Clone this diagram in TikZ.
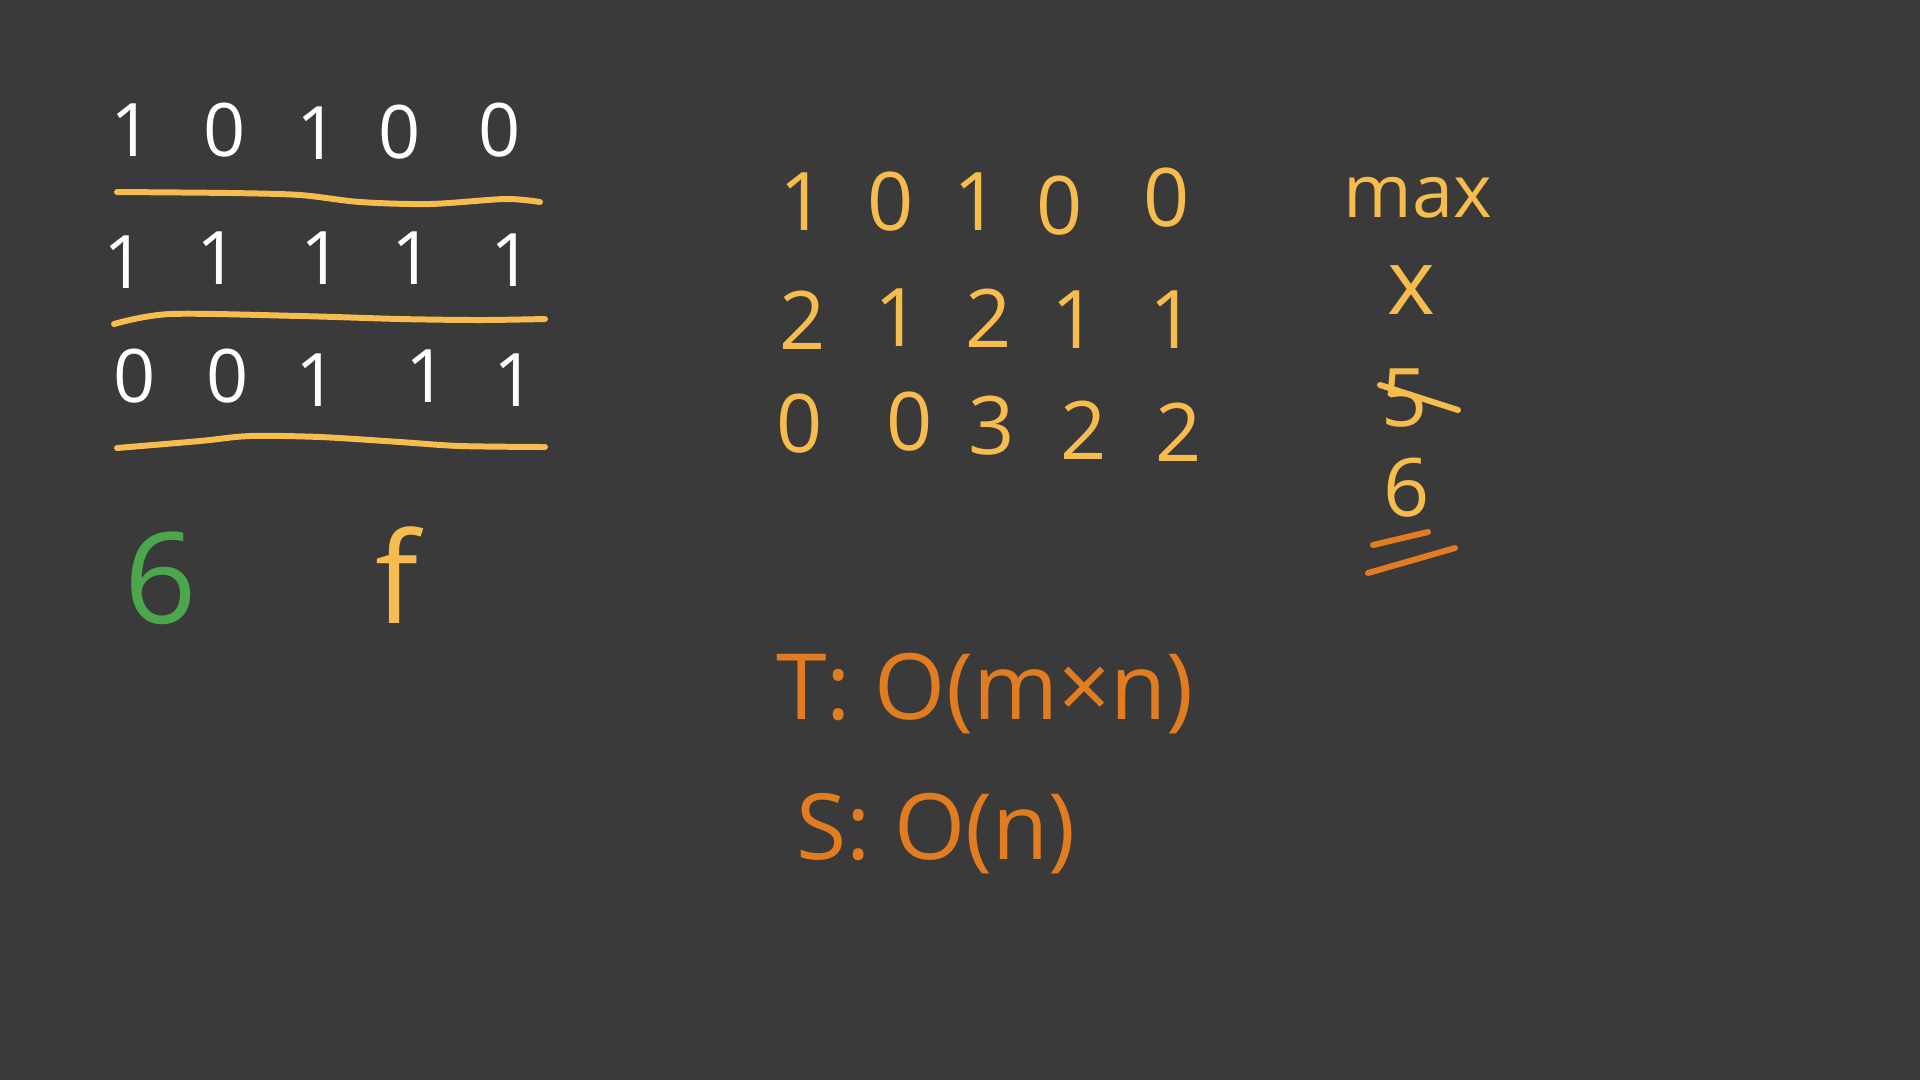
\documentclass[tikz,border=0pt]{standalone}
\usepackage{fontspec}
\setmainfont{Open Sans}
\usepackage{xcolor}
\usepackage{tikz}
\definecolor{boardgray}{RGB}{58, 58, 58}
\definecolor{chalkyellow}{RGB}{247, 188, 78}
\definecolor{chalkorange}{RGB}{226, 124, 32}
\definecolor{chalkgreen}{RGB}{76, 166, 76}

\begin{document}
\begin{tikzpicture}[x=0.1mm, y=-0.1mm,
    bit/.style={white, inner sep=0pt, font=\fontsize{21}{24}\selectfont},
    cell/.style={chalkyellow, inner sep=0pt, font=\fontsize{23}{26}\selectfont},
    rule/.style={chalkyellow, line width=1.7pt, line cap=round}]
  % board
  \fill[boardgray] (0,0) rectangle (1920,1080);
  \useasboundingbox (0,0) rectangle (1920,1080);

  % left: input grid, one row per line
  \node[bit] (a11) at (132,130) {1};
  \node[bit] (a12) at (225,130) {0};
  \node[bit] (a13) at (318,133) {1};
  \node[bit] (a14) at (400,132) {0};
  \node[bit] (a15) at (500,130) {0};
  \draw[rule] plot[smooth] coordinates
    {(117,192) (230,193) (300,195) (360,202) (430,204) (505,199) (540,202)};
  \node[bit] (a21) at (125,262) {1};
  \node[bit] (a22) at (218,258) {1};
  \node[bit] (a23) at (322,258) {1};
  \node[bit] (a24) at (413,258) {1};
  \node[bit] (a25) at (512,260) {1};
  \draw[rule] plot[smooth] coordinates
    {(114,324) (170,314) (300,316) (400,319) (480,320) (545,319)};
  \node[bit] (a31) at (135,376) {0};
  \node[bit] (a32) at (228,376) {0};
  \node[bit] (a33) at (317,380) {1};
  \node[bit] (a34) at (427,376) {1};
  \node[bit] (a35) at (515,380) {1};
  \draw[rule] plot[smooth] coordinates
    {(117,448) (200,441) (250,436) (320,437) (400,442) (460,446) (545,447)};

  \node[chalkgreen, inner sep=0pt, font=\fontsize{36}{40}\selectfont]
    (six) at (161,578) {6};
  \node[chalkyellow, inner sep=0pt, font=\fontsize{36}{40}\selectfont]
    (fx) at (397,575) {f};

  % middle: heights per row
  \node[cell] (h11) at (803,202) {1};
  \node[cell] (h12) at (891,202) {0};
  \node[cell] (h13) at (977,202) {1};
  \node[cell] (h14) at (1060,206) {0};
  \node[cell] (h15) at (1167,198) {0};
  \node[cell] (h21) at (803,320) {2};
  \node[cell] (h22) at (898,318) {1};
  \node[cell] (h23) at (989,318) {2};
  \node[cell] (h24) at (1075,320) {1};
  \node[cell] (h25) at (1173,320) {1};
  \node[cell] (h31) at (800,424) {0};
  \node[cell] (h32) at (910,422) {0};
  \node[cell] (h33) at (992,426) {3};
  \node[cell] (h34) at (1084,430) {2};
  \node[cell] (h35) at (1179,432) {2};

  % right: running max
  \node[chalkyellow, inner sep=0pt, font=\fontsize{21}{24}\selectfont]
    (mx) at (1418,198) {max};
  \node[chalkyellow, inner sep=0pt, font=\fontsize{26}{28}\selectfont]
    (xv) at (1411,290) {x};
  \node[cell] (five) at (1405,398) {5};
  \draw[chalkyellow, line width=1.7pt, line cap=round]
    (1380,385) -- (1458,410);
  \node[cell] (best) at (1407,488) {6};
  \draw[chalkorange, line width=1.7pt, line cap=round]
    (1373,545) -- (1428,532);
  \draw[chalkorange, line width=1.7pt, line cap=round]
    (1368,573) -- (1455,548);

  % complexity
  \node[chalkorange, inner sep=0pt, font=\fontsize{26}{30}\selectfont]
    (tc) at (985,694) {T: O(m×n)};
  \node[chalkorange, inner sep=0pt, font=\fontsize{26}{30}\selectfont]
    (sc) at (936,834) {S: O(n)};
\end{tikzpicture}
\end{document}
